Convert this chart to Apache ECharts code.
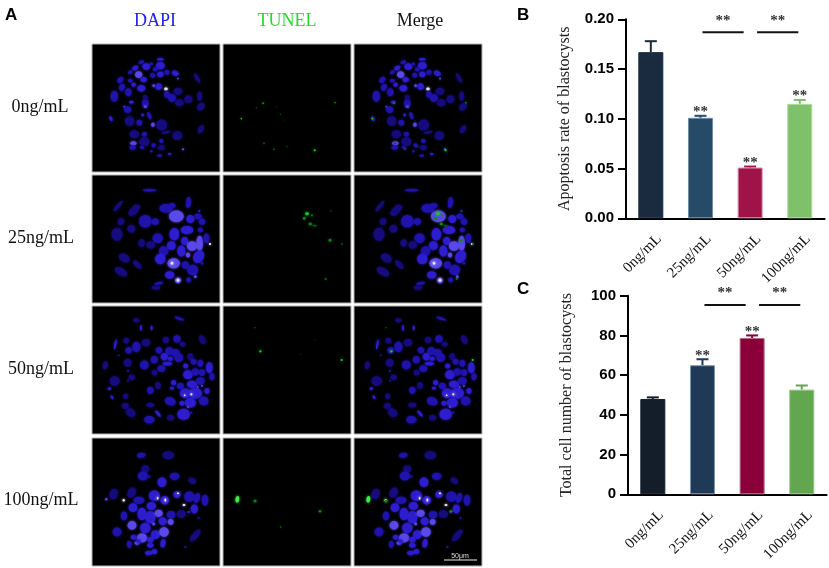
<!DOCTYPE html>
<html>
<head>
<meta charset="utf-8">
<title>Blastocyst apoptosis</title>
<style>
  html, body { margin: 0; padding: 0; background: #fff; }
  #main { width: 829px; height: 568px; }
</style>
<script src="https://cdn.jsdelivr.net/npm/echarts@6/dist/echarts.min.js"></script>
</head>
<body>
<div id="main"></div>
<script>
var doses = ['0ng/mL', '25ng/mL', '50ng/mL', '100ng/mL'];
var stains = ['DAPI', 'TUNEL', 'Merge'];

// panel B
var apoptosisMean = [0.167, 0.101, 0.051, 0.115];
var apoptosisTop = [0.178, 0.103, 0.052, 0.119];
var apoptosisStars = ['', '**', '**', '**'];
var apoptosisTicks = [0, 0.05, 0.10, 0.15, 0.20];
var apoptosisSig = [[1, 2, 0.187], [2, 3, 0.187]];

// panel C
var cellMean = [48, 65, 78.7, 52.7];
var cellTop = [48.8, 68, 80, 54.8];
var cellStars = ['', '**', '**', ''];
var cellTicks = [0, 20, 40, 60, 80, 100];
var cellSig = [[1, 2, 95.3], [2, 3, 95.3]];

// nuclei per dose: [x, y, long, short, angle, level], x/y on a 0-384 field
var dapi0 = [
  [205,46,20,7,0,2],[148,55,16,10,20,1],[205,65,24,20,0,2],[163,68,22,18,0,2],[130,72,18,12,30,2],
  [178,60,10,8,0,1],[190,76,14,12,0,1],[225,85,14,14,0,1],[205,91,18,16,0,2],[182,94,14,14,0,1],
  [140,92,20,18,0,3],[115,85,14,10,30,1],[85,108,20,14,50,1],[115,110,14,10,0,1],[155,107,18,14,0,2],
  [250,88,20,14,-20,2],[258,104,5,5,0,3],[90,130,20,16,60,1],[125,122,12,12,0,2],[148,133,22,18,0,2],
  [185,125,8,8,0,3],[200,128,18,18,0,2],[222,135,10,8,0,4],[225,152,18,16,90,1],[240,162,22,22,0,1],
  [258,142,24,20,0,0],[262,176,24,20,0,0],[289,166,22,22,0,0],[109,145,22,18,90,1],[67,157,30,20,90,1],
  [323,157,26,14,90,0],[327,188,24,18,50,0],[315,102,30,10,-60,0],[160,178,26,18,90,1],[160,160,14,14,0,0],
  [118,175,14,8,0,2],[160,188,8,6,0,3],[97,188,5,5,0,3],[107,197,20,18,0,1],[152,213,8,8,0,2],
  [172,215,22,10,-70,1],[57,224,14,8,-60,2],[113,231,26,26,0,0],[142,236,16,16,0,1],[183,242,12,10,90,3],
  [209,243,30,30,0,0],[222,265,26,8,10,0],[256,275,26,24,0,0],[327,256,24,14,60,0],[127,271,26,22,0,0],
  [157,271,14,14,0,1],[208,291,12,12,0,1],[157,293,28,24,0,0],[124,298,18,12,0,3],[185,304,12,12,0,1],
  [122,311,18,12,0,1],[150,311,14,8,-20,1],[208,311,20,14,0,0],[178,322,8,6,0,1],[233,330,10,6,0,2],
  [273,316,6,6,0,3],[203,335,14,6,0,1]
];
var dapi25 = [
  [173,46,38,7,0,1],[78,93,36,10,50,0],[125,108,34,20,40,0],[134,96,20,14,0,0],[222,100,36,24,0,1],
  [240,92,20,14,0,1],[290,80,26,14,90,1],[288,92,12,12,0,1],[322,108,6,6,0,2],[87,140,20,18,60,0],
  [118,161,22,22,0,0],[160,139,34,34,0,1],[190,140,20,18,0,1],[75,178,36,30,90,0],[253,124,40,32,0,3],
  [295,132,22,22,0,2],[318,124,20,16,0,1],[330,140,18,18,0,1],[247,178,34,26,90,2],[285,165,34,22,0,2],
  [325,165,14,14,0,1],[197,190,28,26,0,1],[149,204,22,18,90,0],[176,210,24,20,0,0],[278,198,22,20,90,2],
  [300,213,28,26,0,3],[323,205,42,18,90,3],[343,190,26,16,90,1],[354,207,6,6,0,4],[238,212,24,24,0,2],
  [215,228,26,26,0,1],[205,252,28,28,0,2],[268,228,30,22,90,2],[320,245,36,28,60,2],[288,240,14,12,90,3],
  [245,265,34,28,0,3],[240,265,8,8,0,4],[97,249,32,22,-30,0],[136,269,30,14,-45,0],[87,290,38,20,-30,0],
  [280,270,20,20,0,1],[302,285,30,28,0,1],[233,300,26,20,0,2],[258,316,16,16,0,3],[258,316,8,8,0,4],
  [290,315,14,14,0,1],[310,305,8,8,0,3],[200,325,26,8,10,1],[192,338,24,12,0,0],[330,265,8,8,0,1]
];
var dapi50 = [
  [262,38,28,7,-20,1],[133,43,18,12,0,0],[147,66,16,6,90,2],[179,66,14,6,90,2],[70,115,28,6,80,2],
  [103,104,16,16,0,0],[162,110,24,20,0,0],[222,102,18,18,0,0],[255,99,20,20,0,1],[331,101,26,16,-60,0],
  [272,115,16,14,0,0],[133,123,28,22,90,1],[110,133,18,18,0,1],[201,133,18,18,0,1],[232,135,22,22,0,1],
  [250,140,24,20,0,1],[260,155,24,24,0,1],[217,152,20,20,0,2],[235,158,14,12,0,2],[295,152,20,16,90,0],
  [80,148,5,5,0,1],[107,170,22,22,0,0],[157,177,24,24,0,1],[187,161,20,20,0,1],[226,173,26,10,0,2],
  [208,188,22,18,0,1],[188,200,16,16,0,0],[40,178,22,14,80,0],[281,180,14,14,0,2],[305,167,16,16,0,1],
  [325,172,20,16,90,1],[352,185,30,18,90,2],[288,206,26,24,0,2],[310,198,20,20,0,1],[330,200,18,18,0,1],
  [360,212,20,14,90,1],[108,195,6,6,0,1],[119,214,18,16,0,0],[68,225,28,26,0,0],[52,248,10,8,0,2],
  [60,274,12,6,-60,2],[108,224,5,5,0,1],[245,230,14,14,0,2],[240,247,12,8,0,2],[265,240,20,18,0,1],
  [198,239,20,16,90,0],[175,253,20,18,90,1],[101,271,16,14,90,0],[235,286,30,22,-20,1],[300,235,28,20,0,2],
  [325,225,24,20,0,1],[280,262,30,26,0,2],[310,262,36,30,0,2],[345,255,16,14,90,2],[335,285,26,24,0,1],
  [295,290,30,26,0,2],[270,292,14,14,0,2],[298,265,6,6,0,4],[278,268,5,5,0,4],[317,243,5,5,0,3],
  [330,240,5,5,0,3],[288,303,5,5,0,3],[100,300,20,16,0,0],[175,297,22,14,0,0],[116,320,28,22,-30,0],
  [198,323,22,8,-50,2],[236,335,20,16,0,0],[172,341,28,20,0,1],[275,325,34,30,0,2],[298,320,6,6,0,1]
];
var dapi100 = [
  [148,52,24,14,10,1],[229,52,32,22,0,0],[160,93,22,20,0,0],[153,114,28,24,0,1],[172,116,6,6,0,1],
  [248,115,26,20,0,1],[210,133,26,24,90,2],[301,128,22,16,-30,0],[65,168,30,22,70,0],[119,164,30,22,60,0],
  [43,184,7,7,0,3],[95,187,7,7,0,4],[141,187,30,20,0,1],[187,173,30,28,0,2],[197,181,8,5,90,4],
  [218,187,24,24,0,2],[220,186,10,5,90,4],[255,170,20,18,0,2],[258,166,6,5,0,4],[292,176,28,28,0,1],
  [315,180,28,16,70,1],[339,187,30,18,90,1],[123,209,24,24,0,2],[178,204,26,22,0,2],[307,213,24,20,90,2],
  [276,201,8,6,0,4],[96,234,24,18,90,1],[150,228,34,24,90,2],[175,238,34,28,90,2],[200,226,22,20,0,3],
  [237,230,24,20,0,1],[268,228,26,22,0,0],[290,222,8,6,0,2],[120,262,24,24,0,3],[160,270,28,28,0,2],
  [185,258,8,8,0,3],[212,250,22,22,0,2],[236,252,16,16,0,3],[75,282,24,24,0,1],[190,290,24,24,0,2],
  [216,282,26,26,0,3],[150,300,28,24,0,3],[125,298,16,14,0,2],[175,322,18,14,0,2],[213,316,24,14,80,2],
  [112,319,20,14,90,1],[135,315,14,10,0,3],[140,310,12,12,0,2],[170,345,20,12,0,2],[187,341,16,14,0,2],
  [175,305,18,16,0,2],[310,292,40,16,50,0],[280,327,6,6,0,1],[320,240,5,5,0,1]
];
// TUNEL spots: same field and shape
var tunel0 = [
  [120,178,7,5,0,1],[100,191,4,4,0,0],[336,176,5,5,0,1],[55,224,5,5,0,2],[172,211,4,4,0,0],
  [183,231,3,3,0,0],[123,298,6,5,0,0],[153,316,6,5,0,0],[192,308,4,4,0,0],[275,319,6,6,0,2],[160,189,3,3,0,0]
];
var tunel25 = [
  [252,116,12,9,0,2],[267,121,7,5,90,1],[244,130,9,8,0,1],[262,147,10,8,0,1],[275,152,14,5,-10,0],
  [324,108,4,4,0,0],[321,196,9,8,0,1],[357,207,6,5,0,0],[308,312,6,5,0,1]
];
var tunel50 = [[96,65,5,4,0,0],[112,136,7,7,0,2],[356,162,6,6,0,2],[277,103,3,3,0,0],[233,145,3,3,0,0]];
var tunel100 = [[43,184,20,11,80,3],[96,189,9,8,0,1],[291,220,9,7,0,1],[173,267,7,4,-45,0]];

var dapiRows = [dapi0, dapi25, dapi50, dapi100];
var tunelRows = [tunel0, tunel25, tunel50, tunel100];

var blueLevels = ['#150b7c', '#2013ad', '#2e1dcf', '#5a48ea', '#e6e4ff'];
var greenLevels = ['#0c5a10', '#108a18', '#18c820', '#38f040'];

var SERIF = '"Liberation Serif", serif';
var SANS = '"Liberation Sans", Arial, sans-serif';

var panelX = [92, 223, 354];
var panelY = [44, 175, 306, 438];
var PANEL = 128;
var sigPad = [[0.04, 0.13], [0.14, 0.03]];

var grids = [], xAxes = [], yAxes = [], series = [];

function blobSeries(items, colors, idx, grow) {
  return {
    type: 'custom',
    coordinateSystem: 'cartesian2d',
    xAxisIndex: idx,
    yAxisIndex: idx,
    silent: true,
    clip: true,
    data: items,
    renderItem: function (params, api) {
      var d = items[params.dataIndex];
      var c = api.coord([d[0], d[1]]);
      var s = api.size([d[2], d[3]]);
      return {
        type: 'ellipse',
        x: c[0],
        y: c[1],
        rotation: d[4] * Math.PI / 180,
        shape: { cx: 0, cy: 0, rx: s[0] / 2 * grow, ry: s[1] / 2 * grow },
        style: { fill: colors[d[5]], shadowBlur: 3, shadowColor: colors[d[5]], blend: 'lighter' }
      };
    }
  };
}

stains.forEach(function (stain, col) {
  doses.forEach(function (dose, row) {
    var idx = grids.length;
    grids.push({
      left: panelX[col], top: panelY[row], width: PANEL, height: PANEL,
      show: true, backgroundColor: '#000', borderColor: '#b4b4b4', borderWidth: 1
    });
    xAxes.push({ gridIndex: idx, type: 'value', min: 0, max: 384, show: false });
    yAxes.push({ gridIndex: idx, type: 'value', min: 0, max: 384, inverse: true, show: false });
    if (col !== 1) series.push(blobSeries(dapiRows[row], blueLevels, idx, 1.1));
    if (col !== 0) series.push(blobSeries(tunelRows[row], greenLevels, idx, 1));
  });
});

function barChart(conf) {
  var idx = grids.length;
  grids.push({ left: conf.left, top: conf.gridTop, width: 198.6, height: conf.gridHeight, show: false });
  xAxes.push({
    gridIndex: idx,
    type: 'category',
    data: doses,
    axisLine: { lineStyle: { color: '#000', width: 2 } },
    axisTick: { alignWithLabel: true, length: 8, lineStyle: { color: '#000', width: 2 } },
    axisLabel: { interval: 0, rotate: 45, margin: 10, verticalAlign: 'top', lineHeight: 24, color: '#111', fontFamily: SERIF, fontSize: 15 }
  });
  yAxes.push({
    gridIndex: idx,
    type: 'value',
    min: conf.ticks[0],
    max: conf.ticks[conf.ticks.length - 1],
    interval: conf.ticks[1],
    name: conf.name,
    nameLocation: 'middle',
    nameRotate: 90,
    nameGap: conf.nameGap,
    nameTextStyle: { color: '#222', fontFamily: SERIF, fontSize: 16 },
    splitLine: { show: false },
    axisLine: { show: true, lineStyle: { color: '#000', width: 2 } },
    axisTick: { show: true, length: 8, lineStyle: { color: '#000', width: 2 } },
    axisLabel: {
      margin: 12, color: '#000', fontFamily: SANS, fontWeight: 'bold', fontSize: 15,
      formatter: conf.format
    }
  });
  series.push({
    type: 'bar',
    xAxisIndex: idx,
    yAxisIndex: idx,
    barWidth: 25,
    z: 3,
    silent: true,
    data: conf.mean.map(function (v, i) {
      return { value: v, itemStyle: { color: conf.colors[i], borderColor: conf.borders[i], borderWidth: 1 } };
    })
  });
  // error bars and the stars over them
  series.push({
    type: 'custom',
    xAxisIndex: idx,
    yAxisIndex: idx,
    z: 2,
    silent: true,
    data: conf.mean,
    renderItem: function (params, api) {
      var i = params.dataIndex;
      var base = api.coord([i, conf.mean[i]]);
      var top = api.coord([i, conf.errTop[i]]);
      var kids = [
        { type: 'line', shape: { x1: base[0], y1: base[1], x2: base[0], y2: top[1] },
          style: { stroke: conf.colors[i], lineWidth: 2 } },
        { type: 'line', shape: { x1: base[0] - 6, y1: top[1], x2: base[0] + 6, y2: top[1] },
          style: { stroke: conf.colors[i], lineWidth: 2 } }
      ];
      if (conf.stars[i]) {
        kids.push({ type: 'text', x: base[0], y: top[1] + 4,
          style: { text: conf.stars[i], fill: '#333', font: 'bold 15px ' + SERIF, align: 'center', verticalAlign: 'bottom' } });
      }
      return { type: 'group', children: kids };
    }
  });
  // significance brackets
  series.push({
    type: 'custom',
    xAxisIndex: idx,
    yAxisIndex: idx,
    silent: true,
    data: conf.sig,
    renderItem: function (params, api) {
      var d = conf.sig[params.dataIndex];
      var pad = sigPad[params.dataIndex];
      var band = api.size([1, 0])[0];
      var a = api.coord([d[0], d[2]]);
      var b = api.coord([d[1], d[2]]);
      var x1 = a[0] + pad[0] * band;
      var x2 = b[0] - pad[1] * band;
      return {
        type: 'group',
        children: [
          { type: 'line', shape: { x1: x1, y1: a[1], x2: x2, y2: a[1] }, style: { stroke: '#111', lineWidth: 2 } },
          { type: 'text', x: (x1 + x2) / 2, y: a[1] - 4,
            style: { text: '**', fill: '#333', font: 'bold 15px ' + SERIF, align: 'center', verticalAlign: 'bottom' } }
        ]
      };
    }
  });
}

barChart({
  left: 626, gridTop: 19.3, gridHeight: 199, ticks: apoptosisTicks,
  mean: apoptosisMean, errTop: apoptosisTop, stars: apoptosisStars, sig: apoptosisSig,
  name: 'Apoptosis rate of blastocysts', nameGap: 53,
  format: function (v) { return v.toFixed(2); },
  colors: ['#1b2b3f', '#264b69', '#a01349', '#7fc06a'],
  borders: ['#1b2b3f', '#6f8da6', '#d98aa8', '#a8dc94']
});
barChart({
  left: 628, gridTop: 295.7, gridHeight: 198.6, ticks: cellTicks,
  mean: cellMean, errTop: cellTop, stars: cellStars, sig: cellSig,
  name: 'Total cell number of blastocysts', nameGap: 53,
  format: function (v) { return String(v); },
  colors: ['#141e2b', '#1e3a57', '#8b0039', '#62a650'],
  borders: ['#141e2b', '#8096ad', '#b56a8a', '#90c882']
});

function label(text, x, y, font, fill, align) {
  return { type: 'text', x: x, y: y, style: { text: text, font: font, fill: fill, textAlign: align || 'center', textVerticalAlign: 'middle' } };
}

var labels = [
  label('A', 5, 15, 'bold 17px ' + SANS, '#000', 'left'),
  label('B', 517, 15, 'bold 17px ' + SANS, '#000', 'left'),
  label('C', 517, 289, 'bold 17px ' + SANS, '#000', 'left'),
  label(stains[0], 155, 21, '18px ' + SERIF, '#2222ee'),
  label(stains[1], 287, 21, '18px ' + SERIF, '#22dd22'),
  label(stains[2], 420, 21, '18px ' + SERIF, '#111'),
  label(doses[0], 40, 107, '18px ' + SERIF, '#111'),
  label(doses[1], 41, 238, '18px ' + SERIF, '#111'),
  label(doses[2], 41, 369, '18px ' + SERIF, '#111'),
  label(doses[3], 41, 500, '18px ' + SERIF, '#111'),
  { type: 'rect', z: 100, shape: { x: 444, y: 559.5, width: 33, height: 1 }, style: { fill: '#eee' } },
  { type: 'text', z: 100, x: 460, y: 556, style: { text: '50μm', font: '7px ' + SANS, fill: '#ddd', textAlign: 'center', textVerticalAlign: 'middle' } }
];

var chart = echarts.init(document.getElementById('main'));
chart.setOption({
  animation: false,
  backgroundColor: '#fff',
  grid: grids,
  xAxis: xAxes,
  yAxis: yAxes,
  series: series,
  graphic: labels
});
</script>
</body>
</html>
